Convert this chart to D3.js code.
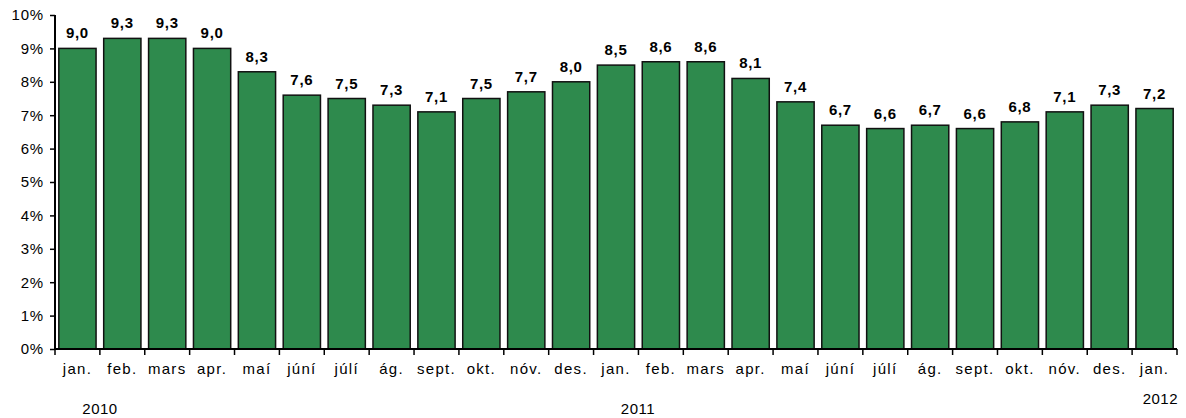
<!DOCTYPE html>
<html>
<head>
<meta charset="utf-8">
<script src="https://cdn.jsdelivr.net/npm/d3@7"></script>
<style>
  body { margin: 0; background: #fff; }
  svg text { font-family: "Liberation Sans", Arial, sans-serif; }
</style>
</head>
<body>
<svg></svg>
<script>
const months = ["jan.", "feb.", "mars", "apr.", "maí", "júní", "júlí", "ág.", "sept.", "okt.", "nóv.", "des.",
                "jan.", "feb.", "mars", "apr.", "maí", "júní", "júlí", "ág.", "sept.", "okt.", "nóv.", "des.", "jan."];
const values = [9.0, 9.3, 9.3, 9.0, 8.3, 7.6, 7.5, 7.3, 7.1, 7.5, 7.7, 8.0,
                8.5, 8.6, 8.6, 8.1, 7.4, 6.7, 6.6, 6.7, 6.6, 6.8, 7.1, 7.3, 7.2];
const yTicks = [0, 1, 2, 3, 4, 5, 6, 7, 8, 9, 10];
const years = ["2010", "2011", "2012"];

const width = 1186;
const height = 418;
const mLeft = 55, mRight = 1177, mTop = 15, mBottom = 349;

let svg = d3.select("svg").attr("width", width).attr("height", height);

let data = values.map((v, i) => ({ idx: i, month: months[i], value: v }));

let scX = d3.scaleBand().domain(data.map(d => d.idx)).range([mLeft, mRight]).paddingInner(0.17).paddingOuter(0.085);
let scY = d3.scaleLinear().domain([0, 10]).range([mBottom, mTop]);

// bars
svg.selectAll(".bar").data(data).enter().append("rect").attr("class", "bar")
    .attr("x", d => scX(d.idx))
    .attr("y", d => scY(d.value))
    .attr("width", scX.bandwidth())
    .attr("height", d => scY(0) - scY(d.value))
    .style("fill", "#2e8a4d")
    .style("stroke", "#111")
    .style("stroke-width", 1.5);

// value labels
svg.selectAll(".val").data(data).enter().append("text").attr("class", "val")
    .attr("x", d => scX(d.idx) + scX.bandwidth() / 2)
    .attr("y", d => scY(d.value) - 10)
    .attr("text-anchor", "middle")
    .style("font-size", "15px")
    .style("font-weight", "bold")
    .style("letter-spacing", "0.7px")
    .text(d => d.value.toFixed(1).replace(".", ","));

// y axis
let axisY = d3.axisLeft(scY).tickValues(yTicks).tickFormat(d => d + "%").tickSize(5).tickPadding(6);
let gY = svg.append("g").attr("transform", `translate(${mLeft},0)`).call(axisY);
gY.select(".domain").attr("stroke", "#000").attr("stroke-width", 2).attr("d", `M0,${mTop}V${mBottom}`);
gY.selectAll(".tick line").attr("stroke", "#000").attr("stroke-width", 1.5);
gY.selectAll(".tick text").style("font-size", "15px").style("letter-spacing", "0.8px")
    .style("font-family", "Liberation Sans, Arial, sans-serif").attr("fill", "#000");

// x axis
let axisX = d3.axisBottom(scX).tickFormat(i => months[i]).tickSize(0).tickPadding(14);
let gX = svg.append("g").attr("transform", `translate(0,${mBottom})`).call(axisX);
gX.select(".domain").attr("stroke", "#000").attr("stroke-width", 2).attr("d", `M${mLeft},0H${mRight}`);
gX.selectAll(".tick text").style("font-size", "15px").style("letter-spacing", "1.3px")
    .style("font-family", "Liberation Sans, Arial, sans-serif")
    .attr("fill", "#000").attr("dy", "0.71em");

// separator ticks between categories
let step = scX.step();
let seps = d3.range(months.length + 1).map(i => mLeft + i * step);
svg.selectAll(".sep").data(seps).enter().append("line").attr("class", "sep")
    .attr("x1", d => d).attr("x2", d => d)
    .attr("y1", mBottom).attr("y2", mBottom + 6)
    .attr("stroke", "#000").attr("stroke-width", 1.5);

// year labels
const yearPos = [{ x: 100, y: 414, anchor: "middle" }, { x: 638, y: 414, anchor: "middle" }, { x: mRight + 1, y: 404, anchor: "end" }];
years.forEach((label, i) => {
    svg.append("text")
        .attr("x", yearPos[i].x)
        .attr("y", yearPos[i].y)
        .attr("text-anchor", yearPos[i].anchor)
        .style("font-size", "15px")
        .style("letter-spacing", "0.5px")
        .text(label);
});
</script>
</body>
</html>
